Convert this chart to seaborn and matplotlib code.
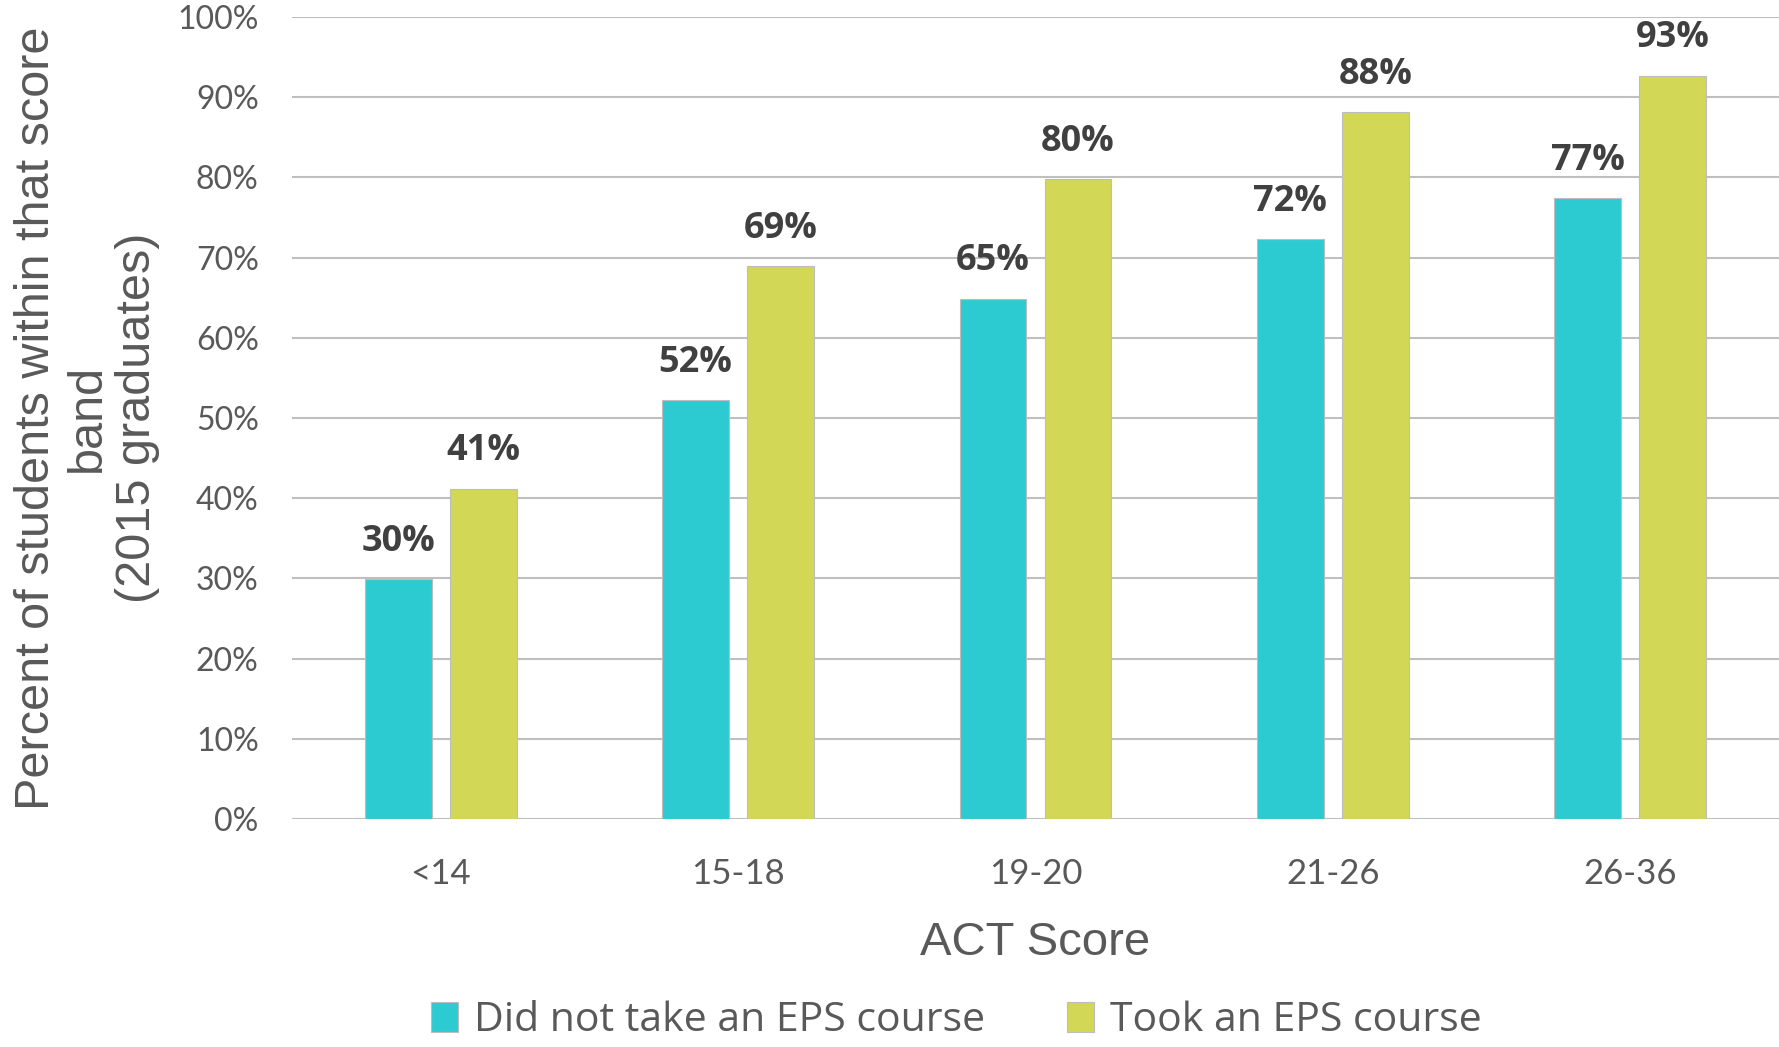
import pandas as pd
import matplotlib.pyplot as plt
import seaborn as sns

# ACT score bands and the share of students in each band (2015 graduates)
score_bands = ['<14', '15-18', '19-20', '21-26', '26-36']
groups = ['Did not take an EPS course', 'Took an EPS course']
no_eps = [29.9, 52.2, 64.9, 72.3, 77.4]
took_eps = [41.2, 68.9, 79.8, 88.1, 92.7]
y_ticks = [0, 10, 20, 30, 40, 50, 60, 70, 80, 90, 100]

colors = ['#2CCBD2', '#D2D756']
gray_txt = '#595959'

df = pd.DataFrame({
    'band': score_bands * 2,
    'group': [groups[0]] * len(score_bands) + [groups[1]] * len(score_bands),
    'pct': no_eps + took_eps,
})

sns.set_style("white")
plt.rcParams['font.family'] = ['Open Sans', 'DejaVu Sans']

fig = plt.figure(figsize=(17.79, 10.47), dpi=100)
ax = fig.add_axes([292 / 1779, 1 - 819 / 1047, 1 - 292 / 1779, (819 - 17) / 1047])

sns.barplot(data=df, x='band', y='pct', hue='group', hue_order=groups,
            order=score_bands, palette=colors, saturation=1,
            width=0.572, gap=0.213, edgecolor='#BDBDBD', linewidth=0.8,
            ax=ax, zorder=3)

# data labels above each bar
for cont in ax.containers:
    ax.bar_label(cont, fmt='{:.0f}%', padding=14, fontsize=26,
                 fontweight='bold', color='#404040')

ax.set_ylim(0, 100)
ax.set_xlim(-0.5, 4.5)
ax.set_yticks(y_ticks)
ax.set_yticklabels([f'{v}%' for v in y_ticks])
ax.yaxis.grid(True, color='#BFBFBF', linewidth=1.5, zorder=0)
ax.set_axisbelow(True)
sns.despine(ax=ax, left=True, bottom=True, right=True, top=True)

ax.tick_params(axis='y', length=0, pad=24, labelsize=23, labelcolor=gray_txt)
ax.tick_params(axis='x', length=0, pad=28, labelsize=25, labelcolor=gray_txt)
for lab in ax.get_xticklabels() + ax.get_yticklabels():
    lab.set_family(['Lato', 'DejaVu Sans'])

ax.set_xlabel('ACT Score', fontsize=34, color=gray_txt,
              family=['Liberation Sans', 'DejaVu Sans'])
ax.xaxis.set_label_coords(0.5, -0.127)
ax.set_ylabel('')

fig.text(87 / 1779, 1 - 418 / 1047,
         'Percent of students within that score\nband\n(2015 graduates)',
         rotation=90, ha='center', va='center', multialignment='center',
         fontsize=35, color=gray_txt, linespacing=1.15,
         family=['Liberation Sans', 'DejaVu Sans'])

sns.move_legend(ax, 'center', bbox_to_anchor=(0.447, -0.252), ncol=2,
                frameon=False, title=None, fontsize=29.5,
                handlelength=0.65, handleheight=0.75, handletextpad=0.4,
                columnspacing=2.0, labelcolor=gray_txt,
                borderpad=0.1, borderaxespad=0.1)

plt.savefig('out.png', dpi=100)
